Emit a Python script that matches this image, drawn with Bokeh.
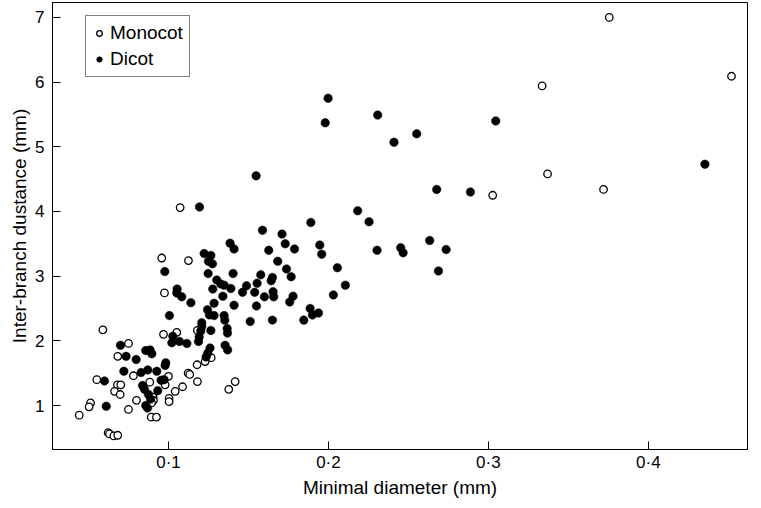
from bokeh.plotting import figure
from bokeh.models import Range1d, FixedTicker, CustomJSTickFormatter, Legend, LegendItem
from bokeh.embed import file_html
from bokeh.resources import INLINE

# Monocot (open circles)
monocot_x = [0.3756, 0.452, 0.3336, 0.337, 0.372, 0.3027, 0.1073, 0.0958, 0.1125, 0.0975,
             0.0590, 0.0969, 0.1052, 0.1181, 0.0750, 0.0683, 0.1267, 0.1229, 0.1179, 0.0781,
             0.1000, 0.1123, 0.1133, 0.0552, 0.0681, 0.0702, 0.0883, 0.0979, 0.1181, 0.1417,
             0.1377, 0.0663, 0.0698, 0.1088, 0.1042, 0.1004, 0.1004, 0.0904, 0.0906, 0.0894,
             0.0800, 0.0513, 0.0504, 0.0442, 0.0750, 0.0892, 0.0925, 0.0623, 0.0631, 0.0658,
             0.0683]
monocot_y = [7.00, 6.09, 5.94, 4.58, 4.34, 4.25, 4.06, 3.28, 3.24, 2.74,
             2.17, 2.10, 2.13, 2.16, 1.96, 1.76, 1.74, 1.68, 1.63, 1.46,
             1.45, 1.50, 1.48, 1.40, 1.32, 1.32, 1.36, 1.32, 1.37, 1.37,
             1.25, 1.22, 1.17, 1.29, 1.22, 1.11, 1.06, 1.13, 1.08, 1.04,
             1.08, 1.04, 0.98, 0.85, 0.94, 0.82, 0.82, 0.58, 0.56, 0.53,
             0.54]

# Dicot (filled circles)
dicot_x = [0.1998, 0.198, 0.2308, 0.241, 0.2552, 0.3046, 0.4354, 0.1548, 0.2677, 0.2888,
           0.2183, 0.2254, 0.189, 0.1946, 0.1958, 0.2304, 0.2452, 0.2467, 0.2633, 0.2736,
           0.2688, 0.2056, 0.2106, 0.2031,
           0.1194, 0.1588, 0.171, 0.173, 0.1788, 0.1385, 0.141, 0.1627, 0.1223, 0.1265,
           0.125, 0.1275, 0.1683, 0.1738, 0.1767, 0.0977, 0.1248, 0.1404, 0.1577, 0.165,
           0.1642, 0.1302, 0.1327, 0.1348, 0.139, 0.1277, 0.1488, 0.1463, 0.1554, 0.1539,
           0.16, 0.1654, 0.1658, 0.134, 0.141, 0.155, 0.1758, 0.1779,
           0.1054, 0.1052, 0.1083, 0.114, 0.1285,
           0.1886, 0.19, 0.1938, 0.1846, 0.165, 0.1511,
           0.1006, 0.1244, 0.1256, 0.1285, 0.1348, 0.1352,
           0.1208, 0.1208, 0.1202, 0.1265, 0.1367, 0.1369, 0.1192, 0.1188,
           0.1027, 0.1021, 0.1069, 0.1115, 0.1354, 0.137, 0.126, 0.1246, 0.1235,
           0.07, 0.0735, 0.0798, 0.0858, 0.0885, 0.0896, 0.0983, 0.0979, 0.0721, 0.0829,
           0.0871, 0.0927, 0.06, 0.0954, 0.0838, 0.085, 0.0933, 0.0875, 0.0888, 0.0858,
           0.0869, 0.0611, 0.0973]
dicot_y = [5.75, 5.37, 5.49, 5.07, 5.20, 5.40, 4.73, 4.55, 4.34, 4.30,
           4.01, 3.84, 3.83, 3.48, 3.34, 3.40, 3.44, 3.36, 3.55, 3.41,
           3.08, 3.13, 2.86, 2.71,
           4.07, 3.71, 3.65, 3.50, 3.42, 3.51, 3.42, 3.40, 3.35, 3.32,
           3.23, 3.19, 3.23, 3.11, 2.99, 3.07, 3.04, 3.04, 3.02, 2.98,
           2.93, 2.94, 2.88, 2.86, 2.81, 2.80, 2.85, 2.75, 2.89, 2.75,
           2.68, 2.76, 2.68, 2.69, 2.55, 2.54, 2.60, 2.69,
           2.80, 2.74, 2.68, 2.59, 2.58,
           2.50, 2.40, 2.43, 2.32, 2.32, 2.30,
           2.39, 2.48, 2.40, 2.39, 2.39, 2.32,
           2.28, 2.22, 2.15, 2.16, 2.19, 2.12, 2.06, 1.99,
           2.07, 1.97, 1.99, 1.96, 1.93, 1.86, 1.89, 1.81, 1.75,
           1.93, 1.76, 1.71, 1.85, 1.86, 1.80, 1.66, 1.62, 1.53, 1.51,
           1.55, 1.53, 1.38, 1.39, 1.31, 1.25, 1.23, 1.17, 1.10, 1.00,
           0.96, 0.99, 1.40]

x_ticks = [0.1, 0.2, 0.3, 0.4]
y_ticks = [1, 2, 3, 4, 5, 6, 7]

FONT = "Liberation Sans"

p = figure(width=749, height=500, output_backend="svg", toolbar_location=None,
           x_range=Range1d(0.0275, 0.462), y_range=Range1d(0.32, 7.23),
           min_border_left=52, min_border_right=2, min_border_top=2, min_border_bottom=50,
           background_fill_color="white", border_fill_color="white")

p.xgrid.visible = False
p.ygrid.visible = False
p.outline_line_color = "black"
p.outline_line_width = 1

r_m = p.scatter(monocot_x, monocot_y, size=7.5, marker="circle",
                fill_color="white", line_color="black", line_width=1.3)
r_d = p.scatter(dicot_x, dicot_y, size=8.5, marker="circle",
                fill_color="black", line_color="black", line_width=0.5)

for ax in (p.xaxis[0], p.yaxis[0]):
    ax.axis_line_color = "black"
    ax.major_tick_line_color = "black"
    ax.major_tick_in = 8
    ax.major_tick_out = 0
    ax.minor_tick_line_color = None
    ax.major_label_text_font = FONT
    ax.major_label_text_font_size = "17px"
    ax.major_label_text_color = "black"
    ax.axis_label_text_font = FONT
    ax.axis_label_text_font_size = "19px"
    ax.axis_label_text_font_style = "normal"
    ax.axis_label_text_color = "black"

p.xaxis.ticker = FixedTicker(ticks=x_ticks)
p.yaxis.ticker = FixedTicker(ticks=y_ticks)
p.xaxis.formatter = CustomJSTickFormatter(code="return tick.toFixed(1).replace('.', '\u00b7')")
p.xaxis.major_label_standoff = 3
p.xaxis.axis_label_standoff = 2
p.yaxis.major_label_standoff = 8
p.yaxis.axis_label_standoff = 2
p.xaxis.axis_label = "Minimal diameter (mm)"
p.yaxis.axis_label = "Inter-branch dustance (mm)"

legend = Legend(items=[LegendItem(label="Monocot", renderers=[r_m]),
                       LegendItem(label="Dicot", renderers=[r_d])],
                location=(33, 372), margin=0, padding=6, spacing=4,
                glyph_width=14, glyph_height=20, label_standoff=4,
                label_text_font=FONT, label_text_font_size="19px",
                label_text_color="black",
                border_line_color="black", border_line_width=1,
                background_fill_color="white", background_fill_alpha=1)
p.add_layout(legend)

open("out.html", "w").write(file_html(p, INLINE))
